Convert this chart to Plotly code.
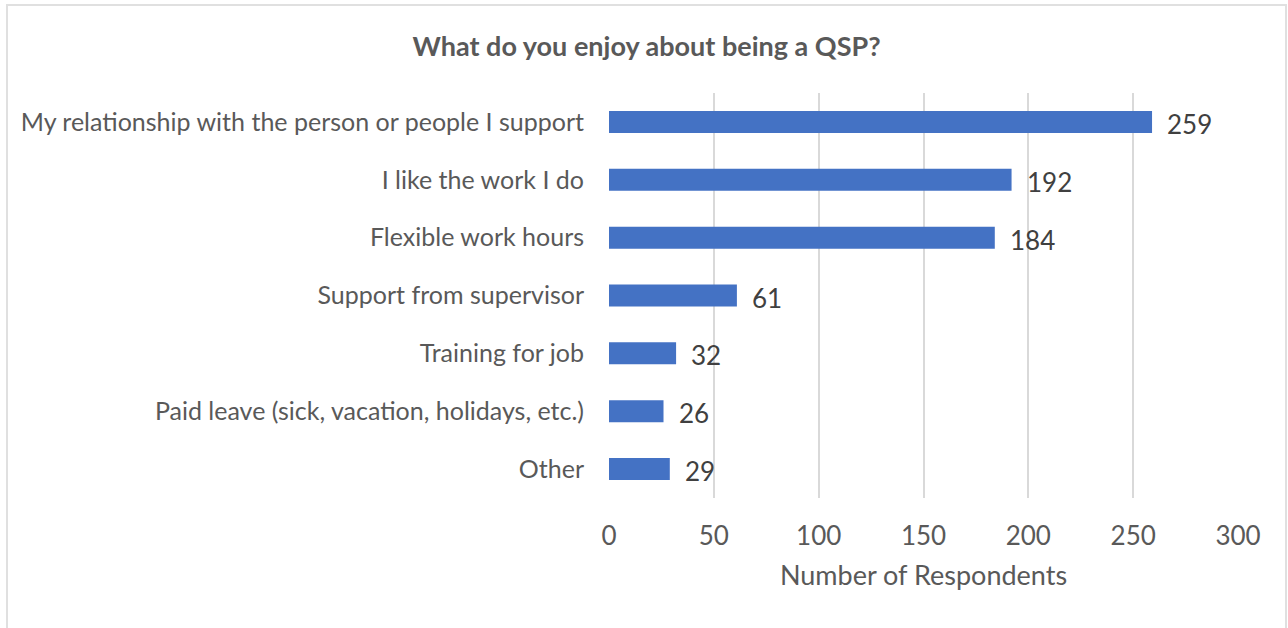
import plotly.graph_objects as go

# Survey responses, listed top to bottom as displayed
categories = [
    "My relationship with the person or people I support",
    "I like the work I do",
    "Flexible work hours",
    "Support from supervisor",
    "Training for job",
    "Paid leave (sick, vacation, holidays, etc.)",
    "Other",
]
respondents = [259, 192, 184, 61, 32, 26, 29]
x_ticks = [0, 50, 100, 150, 200, 250, 300]

BAR_COLOR = "#4472C4"
TEXT_COLOR = "#595959"
GRID_COLOR = "#D9D9D9"
FONT = "Lato, 'Open Sans', sans-serif"

fig = go.Figure(
    go.Bar(
        x=respondents,
        y=categories,
        orientation="h",
        marker=dict(color=BAR_COLOR, line=dict(width=0)),
        width=0.38,
        hoverinfo="x+y",
    )
)

# Value labels just past the end of each bar
for cat, val in zip(categories, respondents):
    fig.add_annotation(
        x=val, y=cat, text=str(val), showarrow=False,
        xanchor="left", yanchor="middle", xshift=13, yshift=-2,
        font=dict(family=FONT, size=26, color="#404040"),
    )

fig.update_layout(
    width=1288,
    height=628,
    margin=dict(l=609, r=50, t=93, b=130),
    paper_bgcolor="white",
    plot_bgcolor="white",
    showlegend=False,
    title=dict(
        text="<b>What do you enjoy about being a QSP?</b>",
        x=0.502, xref="container", xanchor="center",
        y=1 - 47 / 628, yref="container", yanchor="middle",
        font=dict(family=FONT, size=27, color=TEXT_COLOR),
    ),
    xaxis=dict(
        range=[0, 300],
        tickvals=x_ticks,
        showgrid=True, gridcolor=GRID_COLOR, gridwidth=1.5,
        zeroline=False, showline=False,
        ticks="", ticklabelstandoff=20,
        tickfont=dict(family=FONT, size=26, color=TEXT_COLOR),
        title=dict(
            text="Number of Respondents", standoff=16,
            font=dict(family=FONT, size=27, color=TEXT_COLOR),
        ),
        fixedrange=True,
    ),
    yaxis=dict(
        autorange="reversed",
        showgrid=False, zeroline=False, showline=False,
        ticks="", ticklabelstandoff=24,
        tickfont=dict(family=FONT, size=25, color=TEXT_COLOR),
        fixedrange=True,
    ),
)

# Light frame around the whole chart
x_per_px = 1 / (1288 - 609 - 50)
y_per_px = 1 / (628 - 93 - 130)
fig.add_shape(
    type="rect", xref="paper", yref="paper",
    x0=(7 - 609) * x_per_px, x1=(1286 - 609) * x_per_px,
    y0=(498 - 640) * y_per_px, y1=(498 - 5) * y_per_px,
    line=dict(color="#E0E0E0", width=2), fillcolor="rgba(0,0,0,0)",
    layer="below",
)

fig.write_html("out.html", config={"displayModeBar": False})
